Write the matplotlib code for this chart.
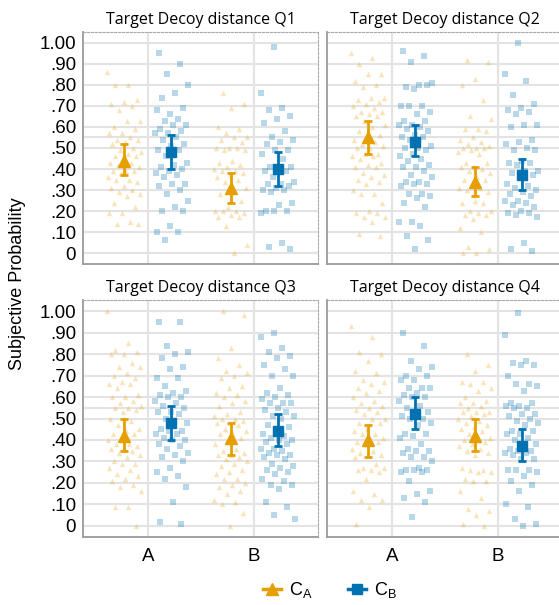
import matplotlib
matplotlib.use('Agg')
import matplotlib.pyplot as plt
from matplotlib.lines import Line2D
import numpy as np

ORANGE = '#E69F00'
BLUE = '#0072B2'

panels = ["Q1", "Q2", "Q3", "Q4"]
options = ["A", "B"]

# raw responses, per panel: [A-CA, A-CB, B-CA, B-CB]
q1_a_ca = [0.86, 0.80, 0.80, 0.73, 0.72, 0.71, 0.70, 0.68, 0.63, 0.63, 0.60, 0.59, 0.57, 0.57,
           0.55, 0.54, 0.54, 0.53, 0.52, 0.50, 0.49, 0.48, 0.47, 0.46, 0.46, 0.45, 0.43, 0.43,
           0.42, 0.41, 0.39, 0.39, 0.39, 0.38, 0.36, 0.35, 0.35, 0.34, 0.32, 0.31, 0.30, 0.29,
           0.28, 0.27, 0.24, 0.22, 0.19, 0.19, 0.15, 0.14, 0.14]
q1_a_cb = [0.95, 0.90, 0.85, 0.80, 0.76, 0.74, 0.69, 0.66, 0.68, 0.64, 0.63, 0.61, 0.61, 0.59,
           0.58, 0.57, 0.57, 0.55, 0.54, 0.52, 0.51, 0.49, 0.49, 0.46, 0.43, 0.42, 0.41, 0.40,
           0.39, 0.38, 0.37, 0.36, 0.33, 0.33, 0.32, 0.30, 0.28, 0.25, 0.22, 0.20, 0.20, 0.13,
           0.10, 0.10, 0.06]
q1_b_ca = [0.76, 0.71, 0.69, 0.60, 0.59, 0.57, 0.55, 0.55, 0.54, 0.53, 0.50, 0.50, 0.50, 0.49,
           0.49, 0.44, 0.43, 0.42, 0.41, 0.40, 0.39, 0.39, 0.38, 0.37, 0.36, 0.35, 0.34, 0.31,
           0.30, 0.28, 0.25, 0.22, 0.20, 0.20, 0.20, 0.19, 0.18, 0.17, 0.17, 0.13, 0.04, 0.00]
q1_b_cb = [0.98, 0.76, 0.69, 0.68, 0.65, 0.64, 0.62, 0.58, 0.55, 0.54, 0.53, 0.52, 0.49, 0.49,
           0.47, 0.45, 0.41, 0.41, 0.40, 0.39, 0.39, 0.36, 0.34, 0.33, 0.33, 0.32, 0.31, 0.30,
           0.30, 0.29, 0.24, 0.23, 0.20, 0.20, 0.20, 0.19, 0.05, 0.03, 0.02]

q2_a_ca = [0.95, 0.93, 0.90, 0.85, 0.85, 0.82, 0.80, 0.79, 0.74, 0.74, 0.73, 0.72, 0.71, 0.70,
           0.69, 0.67, 0.67, 0.66, 0.65, 0.65, 0.63, 0.61, 0.60, 0.58, 0.56, 0.54, 0.54, 0.53,
           0.52, 0.51, 0.50, 0.50, 0.47, 0.47, 0.46, 0.46, 0.45, 0.43, 0.42, 0.41, 0.41, 0.38,
           0.37, 0.36, 0.35, 0.34, 0.33, 0.30, 0.28, 0.28, 0.24, 0.20, 0.19, 0.19, 0.17, 0.17,
           0.15, 0.09, 0.08]
q2_a_cb = [0.96, 0.94, 0.91, 0.81, 0.80, 0.79, 0.80, 0.78, 0.70, 0.70, 0.70, 0.67, 0.66, 0.63,
           0.63, 0.61, 0.61, 0.60, 0.59, 0.58, 0.56, 0.55, 0.55, 0.54, 0.51, 0.50, 0.50, 0.49,
           0.47, 0.46, 0.45, 0.44, 0.42, 0.41, 0.41, 0.39, 0.37, 0.36, 0.34, 0.34, 0.33, 0.33,
           0.32, 0.28, 0.28, 0.27, 0.26, 0.24, 0.22, 0.15, 0.15, 0.13, 0.08, 0.06, 0.02]
q2_b_ca = [0.92, 0.91, 0.83, 0.80, 0.73, 0.65, 0.64, 0.59, 0.59, 0.58, 0.55, 0.54, 0.53, 0.52,
           0.51, 0.50, 0.50, 0.50, 0.49, 0.48, 0.47, 0.43, 0.43, 0.41, 0.41, 0.40, 0.39, 0.38,
           0.36, 0.35, 0.35, 0.33, 0.31, 0.31, 0.30, 0.29, 0.25, 0.24, 0.24, 0.20, 0.20, 0.19,
           0.18, 0.18, 0.16, 0.12, 0.10, 0.03, 0.02, 0.00, 0.00]
q2_b_cb = [1.00, 0.85, 0.82, 0.75, 0.71, 0.69, 0.68, 0.67, 0.66, 0.61, 0.61, 0.60, 0.54, 0.53,
           0.52, 0.50, 0.49, 0.49, 0.44, 0.43, 0.43, 0.42, 0.39, 0.39, 0.38, 0.37, 0.36, 0.33,
           0.32, 0.31, 0.30, 0.29, 0.28, 0.27, 0.25, 0.25, 0.24, 0.23, 0.22, 0.20, 0.19, 0.19,
           0.18, 0.17, 0.05, 0.02, 0.01]

q3_a_ca = [1.00, 0.85, 0.82, 0.81, 0.80, 0.80, 0.76, 0.74, 0.74, 0.71, 0.70, 0.69, 0.67, 0.66,
           0.66, 0.64, 0.61, 0.60, 0.60, 0.58, 0.57, 0.56, 0.55, 0.55, 0.54, 0.53, 0.50, 0.49,
           0.47, 0.45, 0.44, 0.43, 0.43, 0.41, 0.40, 0.38, 0.38, 0.37, 0.36, 0.36, 0.35, 0.34,
           0.33, 0.32, 0.30, 0.29, 0.29, 0.27, 0.26, 0.24, 0.23, 0.22, 0.21, 0.19, 0.18, 0.16,
           0.09, 0.09, 0.00]
q3_a_cb = [0.95, 0.95, 0.84, 0.81, 0.80, 0.78, 0.74, 0.73, 0.69, 0.69, 0.65, 0.63, 0.62, 0.61,
           0.60, 0.60, 0.58, 0.57, 0.56, 0.55, 0.53, 0.53, 0.52, 0.50, 0.48, 0.47, 0.45, 0.44,
           0.44, 0.43, 0.43, 0.41, 0.40, 0.40, 0.38, 0.37, 0.36, 0.34, 0.33, 0.32, 0.30, 0.27,
           0.25, 0.23, 0.22, 0.18, 0.11, 0.02, 0.01]
q3_b_ca = [1.00, 0.98, 0.83, 0.78, 0.75, 0.72, 0.71, 0.70, 0.69, 0.65, 0.64, 0.62, 0.61, 0.60,
           0.58, 0.57, 0.56, 0.53, 0.52, 0.51, 0.50, 0.50, 0.49, 0.48, 0.48, 0.47, 0.45, 0.44,
           0.43, 0.43, 0.41, 0.40, 0.38, 0.36, 0.35, 0.34, 0.33, 0.33, 0.32, 0.31, 0.30, 0.29,
           0.28, 0.26, 0.25, 0.24, 0.22, 0.22, 0.20, 0.19, 0.18, 0.16, 0.15, 0.12, 0.11, 0.10,
           0.06, 0.00]
q3_b_cb = [0.90, 0.88, 0.83, 0.81, 0.79, 0.78, 0.75, 0.73, 0.70, 0.70, 0.64, 0.62, 0.61, 0.60,
           0.59, 0.57, 0.57, 0.57, 0.55, 0.54, 0.53, 0.51, 0.51, 0.50, 0.47, 0.46, 0.44, 0.43,
           0.42, 0.41, 0.40, 0.40, 0.39, 0.38, 0.36, 0.36, 0.35, 0.34, 0.33, 0.33, 0.32, 0.31,
           0.29, 0.28, 0.27, 0.26, 0.25, 0.24, 0.22, 0.21, 0.19, 0.19, 0.17, 0.11, 0.09, 0.05,
           0.03]

q4_a_ca = [0.93, 0.88, 0.81, 0.80, 0.77, 0.72, 0.71, 0.68, 0.67, 0.66, 0.64, 0.63, 0.62, 0.60,
           0.58, 0.57, 0.56, 0.55, 0.54, 0.53, 0.52, 0.50, 0.50, 0.48, 0.48, 0.45, 0.44, 0.43,
           0.43, 0.41, 0.40, 0.39, 0.39, 0.38, 0.36, 0.35, 0.34, 0.33, 0.33, 0.32, 0.29, 0.27,
           0.27, 0.26, 0.26, 0.25, 0.22, 0.16, 0.15, 0.12, 0.12, 0.09, 0.01]
q4_a_cb = [0.90, 0.84, 0.77, 0.74, 0.73, 0.70, 0.70, 0.68, 0.68, 0.64, 0.64, 0.64, 0.62, 0.61,
           0.60, 0.60, 0.58, 0.56, 0.55, 0.53, 0.52, 0.51, 0.50, 0.50, 0.48, 0.47, 0.43, 0.43,
           0.42, 0.41, 0.38, 0.36, 0.35, 0.35, 0.34, 0.32, 0.32, 0.30, 0.27, 0.26, 0.26, 0.26,
           0.25, 0.25, 0.21, 0.16, 0.15, 0.13, 0.11, 0.04]
q4_b_ca = [0.80, 0.75, 0.72, 0.67, 0.67, 0.66, 0.64, 0.63, 0.60, 0.58, 0.57, 0.57, 0.56, 0.55,
           0.53, 0.53, 0.53, 0.52, 0.51, 0.50, 0.49, 0.48, 0.47, 0.46, 0.45, 0.44, 0.43, 0.41,
           0.40, 0.40, 0.39, 0.38, 0.37, 0.36, 0.35, 0.34, 0.33, 0.27, 0.26, 0.26, 0.25, 0.25,
           0.22, 0.21, 0.21, 0.16, 0.13, 0.08, 0.07, 0.05, 0.01, 0.00]
q4_b_cb = [0.99, 0.89, 0.77, 0.76, 0.75, 0.75, 0.70, 0.66, 0.66, 0.65, 0.63, 0.57, 0.57, 0.56,
           0.56, 0.55, 0.55, 0.52, 0.52, 0.51, 0.50, 0.49, 0.48, 0.47, 0.44, 0.44, 0.43, 0.43,
           0.41, 0.40, 0.38, 0.37, 0.36, 0.35, 0.35, 0.34, 0.34, 0.33, 0.31, 0.31, 0.26, 0.26,
           0.26, 0.25, 0.23, 0.21, 0.19, 0.16, 0.10, 0.09, 0.03, 0.01, 0.00]

raw = {
    "Q1": [q1_a_ca, q1_a_cb, q1_b_ca, q1_b_cb],
    "Q2": [q2_a_ca, q2_a_cb, q2_b_ca, q2_b_cb],
    "Q3": [q3_a_ca, q3_a_cb, q3_b_ca, q3_b_cb],
    "Q4": [q4_a_ca, q4_a_cb, q4_b_ca, q4_b_cb],
}

# summary (mean, lower, upper), same order
means = {"Q1": [0.44, 0.48, 0.31, 0.40], "Q2": [0.55, 0.53, 0.34, 0.37],
         "Q3": [0.42, 0.48, 0.41, 0.44], "Q4": [0.40, 0.52, 0.42, 0.37]}
lower = {"Q1": [0.37, 0.40, 0.24, 0.32], "Q2": [0.47, 0.46, 0.27, 0.30],
         "Q3": [0.35, 0.40, 0.33, 0.37], "Q4": [0.32, 0.45, 0.35, 0.30]}
upper = {"Q1": [0.52, 0.56, 0.38, 0.48], "Q2": [0.63, 0.61, 0.41, 0.45],
         "Q3": [0.50, 0.56, 0.48, 0.52], "Q4": [0.47, 0.60, 0.50, 0.45]}

yticks = [0, 0.1, 0.2, 0.3, 0.4, 0.5, 0.6, 0.7, 0.8, 0.9, 1.0]
ylabels = ["0", ".10", ".20", ".30", ".40", ".50", ".60", ".70", ".80", ".90", "1.00"]

W, H = 559, 605
fig = plt.figure(figsize=(W / 100, H / 100), dpi=100)

# pixel boxes (left, top, right, bottom)
boxes = [(83, 32, 318, 264), (327, 32, 562, 264), (83, 300, 318, 537), (327, 300, 562, 537)]

dodge = 0.22
jit = 0.16
styles = [('^', ORANGE), ('s', BLUE)]

for k, (p, box) in enumerate(zip(panels, boxes)):
    l, t, r, b = box
    ax = fig.add_axes([l / W, 1 - b / H, (r - l) / W, (b - t) / H])
    for g in range(4):
        xi = 1 + g // 2
        side = -1 if g % 2 == 0 else 1
        m, c = styles[g % 2]
        ys = np.array(raw[p][g])
        # deterministic spread so the dots do not overlap
        off = ((np.arange(len(ys)) * 0.6180339887 + 0.13 * g) % 1 - 0.5) * 2 * jit
        ax.scatter(xi + side * dodge + off, ys, marker=m, s=15, color=c, alpha=0.28,
                   linewidths=0, zorder=2)
        mu = means[p][g]
        ax.errorbar(xi + side * dodge, mu, yerr=[[mu - lower[p][g]], [upper[p][g] - mu]],
                    fmt=m, color=c, markersize=9 if m == '^' else 7.5, elinewidth=2,
                    capsize=3, capthick=2, zorder=4)

    ax.set_xlim(0.39, 2.6)
    ax.set_ylim(-0.052, 1.052)
    ax.set_yticks(yticks)
    ax.set_xticks([1, 2])
    ax.grid(True, color='#e3e3e3', linewidth=1.5, zorder=0)
    ax.axhline(0.55, color='#e3e3e3', linewidth=1.5, zorder=0)
    ax.set_axisbelow(True)
    ax.tick_params(length=0, labelsize=13.5, pad=5)
    if k % 2 == 0:
        ax.set_yticklabels(ylabels, family='Liberation Sans')
    else:
        ax.set_yticklabels([])
    if k >= 2:
        ax.set_xticklabels(options, family='Liberation Sans')
        ax.tick_params(axis='x', pad=8)
    else:
        ax.set_xticklabels([])
    for s in ['left', 'bottom']:
        ax.spines[s].set_color('#9a9a9a')
        ax.spines[s].set_linewidth(1.3)
    for s in ['top', 'right']:
        ax.spines[s].set_color('#a8a8a8')
        ax.spines[s].set_linewidth(0.8)
        ax.spines[s].set_linestyle((0, (2, 1.5)))
    ax.set_title("Target Decoy distance " + p, fontsize=11.5, family='Open Sans', pad=6)

fig.text(18 / W, 1 - 284 / H, "Subjective Probability", rotation=90, ha='center',
         va='center', fontsize=13, family='Liberation Sans')

handles = [Line2D([0], [0], marker='^', color=ORANGE, lw=2.5, markersize=9),
           Line2D([0], [0], marker='s', color=BLUE, lw=2.5, markersize=7.5)]
fig.legend(handles, ["C$_\\mathregular{A}$", "C$_\\mathregular{B}$"], loc='center',
           bbox_to_anchor=(330 / W, 1 - 590 / H), ncol=2, frameon=False, handlelength=1.0,
           handletextpad=0.4, columnspacing=2.0, prop={'family': 'Liberation Sans', 'size': 13})

plt.savefig('out.png', dpi=100)
print("plot saved to: out.png")
